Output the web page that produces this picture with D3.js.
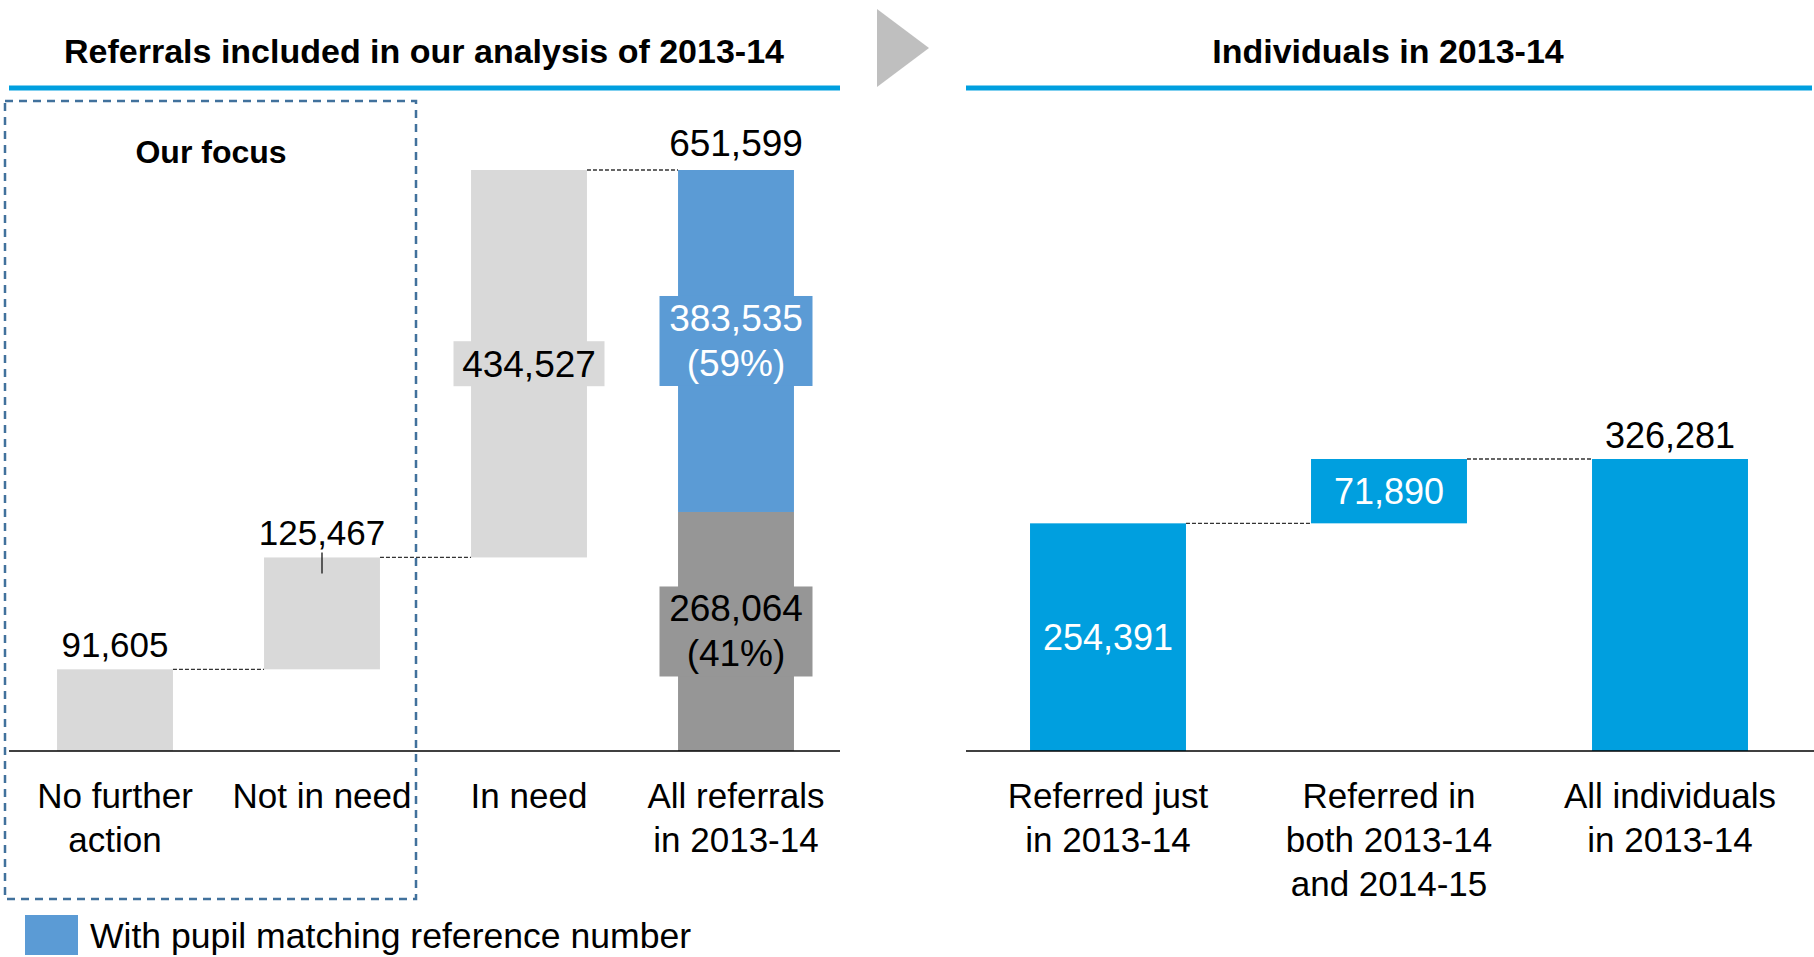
<!DOCTYPE html>
<html>
<head>
<meta charset="utf-8">
<script src="https://cdn.jsdelivr.net/npm/d3@7"></script>
<style>
  body { margin: 0; background: #fff; }
  svg { display: block; font-family: "Liberation Sans", Arial, sans-serif; }
</style>
</head>
<body>
<script>
// left waterfall: referrals
let leftLabels = [["No further", "action"], ["Not in need"], ["In need"], ["All referrals", "in 2013-14"]];
let leftValues = [91605, 125467, 434527];
let leftTotal = 651599;
let totalSplit = [268064, 383535];        // without / with pupil matching ref
let totalSplitPct = ["41%", "59%"];

// right waterfall: individuals
let rightLabels = [["Referred just", "in 2013-14"], ["Referred in", "both 2013-14", "and 2014-15"], ["All individuals", "in 2013-14"]];
let rightValues = [254391, 71890];
let rightTotal = 326281;

let titles = ["Referrals included in our analysis of 2013-14", "Individuals in 2013-14"];
let legendText = "With pupil matching reference number";

let w = 1814, h = 957;
let fmt = d3.format(",");

let svg = d3.select("body").append("svg")
            .attr("width", w)
            .attr("height", h);

let baseY = 751;

let yL = d3.scaleLinear().domain([0, leftTotal]).range([baseY, 170]);
let yR = d3.scaleLinear().domain([0, rightTotal]).range([baseY, 459]);

let xL = d3.scaleBand()
           .domain(d3.range(leftLabels.length))
           .range([11.5, 839.5])
           .paddingInner(0.44)
           .paddingOuter(0.22);

let xR = d3.scaleBand()
           .domain(d3.range(rightLabels.length))
           .range([967.5, 1810.5])
           .paddingInner(0.445)
           .paddingOuter(0.2225);

// turn a list of deltas into start/end steps
function steps(values) {
  let acc = 0;
  return values.map((v, i) => {
    let s = {i: i, v: v, start: acc, end: acc + v};
    acc += v;
    return s;
  });
}

let lSteps = steps(leftValues);
let rSteps = steps(rightValues);

// titles + blue rules
svg.selectAll(".title")
   .data(titles)
   .enter()
   .append("text")
   .attr("class", "title")
   .attr("x", (d, i) => i == 0 ? 424 : 1388)
   .attr("y", 63)
   .attr("text-anchor", "middle")
   .style("font-size", "34px")
   .style("font-weight", "bold")
   .text(d => d);

svg.append("line").attr("x1", 9).attr("x2", 840).attr("y1", 88).attr("y2", 88)
   .attr("stroke", "#009FDF").attr("stroke-width", 5);
svg.append("line").attr("x1", 966).attr("x2", 1812).attr("y1", 88).attr("y2", 88)
   .attr("stroke", "#009FDF").attr("stroke-width", 5);

// grey arrow between the panels
svg.append("path")
   .attr("d", "M877,9 L929,48 L877,87 Z")
   .attr("fill", "#BFBFBF");

// "our focus" dashed box
svg.append("rect")
   .attr("x", 5).attr("y", 101)
   .attr("width", 411).attr("height", 798)
   .attr("fill", "none")
   .attr("stroke", "#41719C")
   .attr("stroke-width", 2.5)
   .attr("stroke-dasharray", "8,6");

svg.append("text")
   .attr("x", 211).attr("y", 163)
   .attr("text-anchor", "middle")
   .style("font-size", "32px")
   .style("font-weight", "bold")
   .text("Our focus");

// ---------- left chart ----------
let left = svg.append("g");

// dashed connectors
let lConn = lSteps.map(s => ({x1: xL(s.i) + xL.bandwidth(), x2: xL(s.i + 1), y: yL(s.end)}));
left.selectAll(".conn")
    .data(lConn)
    .enter()
    .append("line")
    .attr("x1", d => d.x1).attr("x2", d => d.x2)
    .attr("y1", d => d.y).attr("y2", d => d.y)
    .attr("stroke", "#333")
    .attr("stroke-width", 1.3)
    .attr("stroke-dasharray", "4,2");

left.selectAll(".step")
    .data(lSteps)
    .enter()
    .append("rect")
    .attr("x", d => xL(d.i))
    .attr("width", xL.bandwidth())
    .attr("y", d => yL(d.end))
    .attr("height", d => yL(d.start) - yL(d.end))
    .attr("fill", "#D9D9D9");

// total bar, stacked
let tIdx = leftLabels.length - 1;
let stack = [
  {v: totalSplit[0], pct: totalSplitPct[0], start: 0, end: totalSplit[0], fill: "#969696", color: "#000"},
  {v: totalSplit[1], pct: totalSplitPct[1], start: totalSplit[0], end: totalSplit[0] + totalSplit[1], fill: "#5B9BD5", color: "#fff"}
];
left.selectAll(".tot")
    .data(stack)
    .enter()
    .append("rect")
    .attr("x", xL(tIdx))
    .attr("width", xL.bandwidth())
    .attr("y", d => yL(d.end))
    .attr("height", d => yL(d.start) - yL(d.end))
    .attr("fill", d => d.fill);

// labels above first two steps
lSteps.slice(0, 2).forEach(s => {
  let cx = xL(s.i) + xL.bandwidth() / 2;
  left.append("text")
      .attr("x", cx).attr("y", yL(s.end) - 12)
      .attr("text-anchor", "middle")
      .style("font-size", "35px")
      .text(fmt(s.v));
});
// leader tick on "Not in need"
left.append("line")
    .attr("x1", xL(1) + xL.bandwidth() / 2).attr("x2", xL(1) + xL.bandwidth() / 2)
    .attr("y1", yL(lSteps[1].end) - 5).attr("y2", yL(lSteps[1].end) + 16)
    .attr("stroke", "#000").attr("stroke-width", 1.2);

// label inside "In need" with background box
{
  let s = lSteps[2];
  let cx = xL(s.i) + xL.bandwidth() / 2;
  let cy = (yL(s.start) + yL(s.end)) / 2;
  left.append("rect")
      .attr("x", cx - 75.5).attr("y", cy - 22.5)
      .attr("width", 151).attr("height", 45)
      .attr("fill", "#D9D9D9");
  left.append("text")
      .attr("x", cx).attr("y", cy + 13)
      .attr("text-anchor", "middle")
      .style("font-size", "37px")
      .text(fmt(s.v));
}

// stacked labels with boxes
stack.forEach(d => {
  let cx = xL(tIdx) + xL.bandwidth() / 2;
  let cy = (yL(d.start) + yL(d.end)) / 2;
  left.append("rect")
      .attr("x", cx - 76.5).attr("y", cy - 45)
      .attr("width", 153).attr("height", 90)
      .attr("fill", d.fill);
  let t = left.append("text")
      .attr("text-anchor", "middle")
      .style("font-size", "37px")
      .attr("fill", d.color);
  t.append("tspan").attr("x", cx).attr("y", cy - 10).text(fmt(d.v));
  t.append("tspan").attr("x", cx).attr("y", cy + 35).text("(" + d.pct + ")");
});

// total label
left.append("text")
    .attr("x", xL(tIdx) + xL.bandwidth() / 2)
    .attr("y", yL(leftTotal) - 14)
    .attr("text-anchor", "middle")
    .style("font-size", "37px")
    .text(fmt(leftTotal));

// axis line
left.append("line")
    .attr("x1", 9).attr("x2", 840)
    .attr("y1", baseY).attr("y2", baseY)
    .attr("stroke", "#000").attr("stroke-width", 1.5);

// category labels
let lCat = left.selectAll(".cat")
    .data(leftLabels)
    .enter()
    .append("text")
    .attr("text-anchor", "middle")
    .style("font-size", "35px");
lCat.each(function(lines, i) {
  let cx = xL(i) + xL.bandwidth() / 2;
  lines.forEach((l, k) => {
    d3.select(this).append("tspan").attr("x", cx).attr("y", 808 + k * 44).text(l);
  });
});

// ---------- right chart ----------
let right = svg.append("g");

let rConn = rSteps.map(s => ({x1: xR(s.i) + xR.bandwidth(), x2: xR(s.i + 1), y: yR(s.end)}));
right.selectAll(".conn")
     .data(rConn)
     .enter()
     .append("line")
     .attr("x1", d => d.x1).attr("x2", d => d.x2)
     .attr("y1", d => d.y).attr("y2", d => d.y)
     .attr("stroke", "#333")
     .attr("stroke-width", 1.3)
     .attr("stroke-dasharray", "4,2");

right.selectAll(".step")
     .data(rSteps)
     .enter()
     .append("rect")
     .attr("x", d => xR(d.i))
     .attr("width", xR.bandwidth())
     .attr("y", d => yR(d.end))
     .attr("height", d => yR(d.start) - yR(d.end))
     .attr("fill", "#009FDF");

right.selectAll(".stepLabel")
     .data(rSteps)
     .enter()
     .append("text")
     .attr("x", d => xR(d.i) + xR.bandwidth() / 2)
     .attr("y", d => (yR(d.start) + yR(d.end)) / 2 + 13)
     .attr("text-anchor", "middle")
     .attr("fill", "#fff")
     .style("font-size", "36px")
     .text(d => fmt(d.v));

let rIdx = rightLabels.length - 1;
right.append("rect")
     .attr("x", xR(rIdx))
     .attr("width", xR.bandwidth())
     .attr("y", yR(rightTotal))
     .attr("height", yR(0) - yR(rightTotal))
     .attr("fill", "#009FDF");

right.append("text")
     .attr("x", xR(rIdx) + xR.bandwidth() / 2)
     .attr("y", yR(rightTotal) - 11)
     .attr("text-anchor", "middle")
     .style("font-size", "36px")
     .text(fmt(rightTotal));

right.append("line")
     .attr("x1", 966).attr("x2", 1814)
     .attr("y1", baseY).attr("y2", baseY)
     .attr("stroke", "#000").attr("stroke-width", 1.5);

let rCat = right.selectAll(".cat")
     .data(rightLabels)
     .enter()
     .append("text")
     .attr("text-anchor", "middle")
     .style("font-size", "35px");
rCat.each(function(lines, i) {
  let cx = xR(i) + xR.bandwidth() / 2;
  lines.forEach((l, k) => {
    d3.select(this).append("tspan").attr("x", cx).attr("y", 808 + k * 44).text(l);
  });
});

// legend
svg.append("rect")
   .attr("x", 25).attr("y", 915)
   .attr("width", 53).attr("height", 40)
   .attr("fill", "#5B9BD5");
svg.append("text")
   .attr("x", 90).attr("y", 948)
   .style("font-size", "35.6px")
   .text(legendText);
</script>
</body>
</html>
